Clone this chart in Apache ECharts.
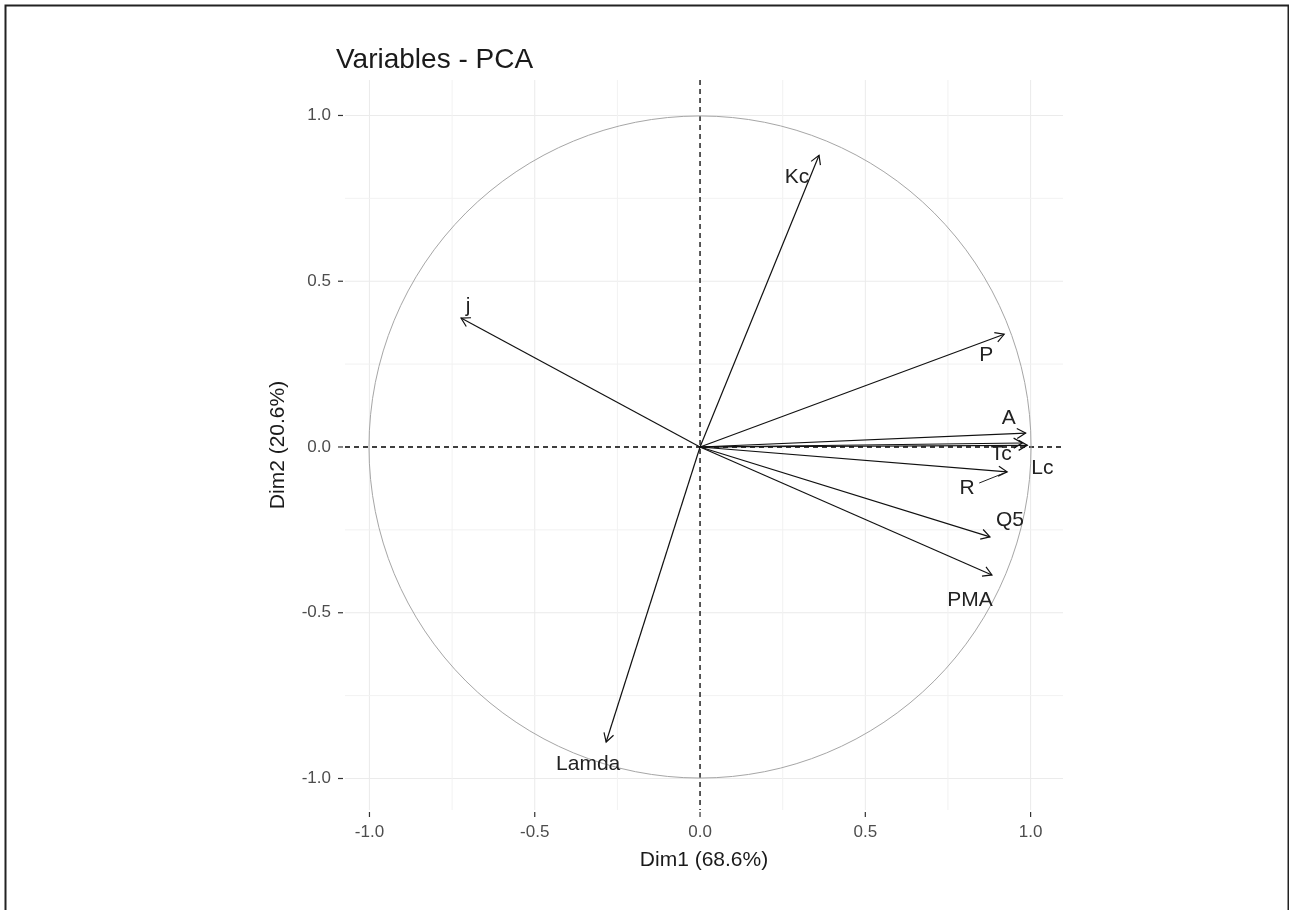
<!DOCTYPE html>
<html>
<head>
<meta charset="utf-8">
<title>Variables - PCA</title>
<script src="https://cdn.jsdelivr.net/npm/echarts@6/dist/echarts.min.js"></script>
<style>
  html, body { margin: 0; padding: 0; background: #ffffff; }
  #chart { width: 1289px; height: 910px; }
</style>
</head>
<body>
<div id="chart"></div>
<script>
// Variable loadings on the first two principal components
const varNames = ['Kc', 'j', 'P', 'A', 'Tc', 'Lc', 'R', 'Q5', 'PMA', 'Lamda'];
const dim1 = [0.36, -0.723, 0.92, 0.985, 0.975, 0.99, 0.929, 0.877, 0.883, -0.284];
const dim2 = [0.88, 0.389, 0.34, 0.042, 0.012, 0.005, -0.075, -0.271, -0.386, -0.89];

// Axis ticks and grid
const tickValues = [-1, -0.5, 0, 0.5, 1];
const minorValues = [-0.75, -0.25, 0.25, 0.75];
const xTitle = 'Dim1 (68.6%)';
const yTitle = 'Dim2 (20.6%)';

// Label placement relative to each arrow tip (pixels)
const labelDx = [-22, 7, -18, -17, -21, 15, -40, 20, -22, -18];
const labelDy = [22, -12, 21, -15, 11, 23, 16, -17, 25, 22];

const chart = echarts.init(document.getElementById('chart'), null, { renderer: 'canvas' });

const font = '"Liberation Sans", Arial, Helvetica, sans-serif';

const gridData = [];
tickValues.forEach(v => { if (v !== 0) { gridData.push([v, 0, 0]); gridData.push([v, 1, 0]); } });
minorValues.forEach(v => { gridData.push([v, 0, 1]); gridData.push([v, 1, 1]); });
gridData.push([0, 0, 2]);
gridData.push([0, 1, 2]);

const arrowData = varNames.map((n, i) => [dim1[i], dim2[i], i]);

function renderGrid(params, api) {
  const cs = params.coordSys;
  const v = api.value(0), dir = api.value(1), kind = api.value(2);
  let shape;
  if (dir === 0) {
    const px = api.coord([v, 0])[0];
    shape = { x1: px, y1: cs.y, x2: px, y2: cs.y + cs.height };
  } else {
    const py = api.coord([0, v])[1];
    shape = { x1: cs.x, y1: py, x2: cs.x + cs.width, y2: py };
  }
  const style = kind === 2
    ? { stroke: '#000', lineWidth: 1.3, lineDash: [5, 4] }
    : { stroke: kind === 0 ? '#ebebeb' : '#f2f2f2', lineWidth: 1 };
  return { type: 'line', shape: shape, style: style, z2: kind === 2 ? 5 : 1 };
}

function renderTicks(params, api) {
  // short tick marks outside the panel for the labelled values
  const cs = params.coordSys;
  const v = api.value(0), dir = api.value(1);
  let shape;
  if (dir === 0) {
    const px = api.coord([v, 0])[0];
    shape = { x1: px, y1: cs.y + cs.height + 2, x2: px, y2: cs.y + cs.height + 7 };
  } else {
    const py = api.coord([0, v])[1];
    shape = { x1: cs.x - 7, y1: py, x2: cs.x - 2, y2: py };
  }
  return { type: 'line', shape: shape, style: { stroke: '#333', lineWidth: 1.2 } };
}

function renderCircle(params, api) {
  const c = api.coord([0, 0]);
  const rx = Math.abs(api.coord([1, 0])[0] - c[0]);
  const ry = Math.abs(api.coord([0, 1])[1] - c[1]);
  return {
    type: 'circle',
    shape: { cx: c[0], cy: c[1], r: (rx + ry) / 2 },
    style: { fill: 'none', stroke: '#a6a6a6', lineWidth: 1 }
  };
}

function renderArrow(params, api) {
  const i = api.value(2);
  const o = api.coord([0, 0]);
  const t = api.coord([api.value(0), api.value(1)]);
  const ang = Math.atan2(t[1] - o[1], t[0] - o[0]);
  const hl = 10, ha = Math.PI / 6;
  const h1 = [t[0] - hl * Math.cos(ang - ha), t[1] - hl * Math.sin(ang - ha)];
  const h2 = [t[0] - hl * Math.cos(ang + ha), t[1] - hl * Math.sin(ang + ha)];
  const lx = t[0] + labelDx[i], ly = t[1] + labelDy[i];
  const children = [
    { type: 'line', shape: { x1: o[0], y1: o[1], x2: t[0], y2: t[1] },
      style: { stroke: '#111', lineWidth: 1.2 } },
    { type: 'polyline', shape: { points: [h1, t, h2] },
      style: { stroke: '#111', lineWidth: 1.2, fill: 'none' } },
    { type: 'text', x: lx, y: ly,
      style: { text: varNames[i], fill: '#222', font: '21px ' + font,
               align: 'center', verticalAlign: 'middle' } }
  ];
  const dx = t[0] - lx, dy = t[1] - ly, d = Math.hypot(dx, dy);
  if (d > 38) {
    const ux = dx / d, uy = dy / d;
    children.push({ type: 'line',
      shape: { x1: lx + ux * 13, y1: ly + uy * 13, x2: t[0] - ux * 4, y2: t[1] - uy * 4 },
      style: { stroke: '#222', lineWidth: 1 } });
  }
  return { type: 'group', children: children };
}

const option = {
  backgroundColor: '#ffffff',
  animation: false,
  title: {
    text: 'Variables - PCA',
    left: 331, top: 41,
    textStyle: { fontFamily: font, fontSize: 28, fontWeight: 'normal', color: '#1a1a1a' }
  },
  graphic: [{
    type: 'rect', left: 3, top: 3, silent: true,
    shape: { width: 1283, height: 930 },
    style: { fill: 'none', stroke: '#222', lineWidth: 2 }
  }],
  grid: { left: 345, top: 80, width: 718, height: 730, containLabel: false },
  xAxis: {
    type: 'value', min: -1.074, max: 1.098,
    name: xTitle, nameLocation: 'middle', nameGap: 40,
    nameTextStyle: { fontFamily: font, fontSize: 21, color: '#1a1a1a' },
    axisLine: { show: false },
    axisTick: { show: false },
    axisLabel: { customValues: tickValues, margin: 14,
                 formatter: v => v.toFixed(1),
                 fontFamily: font, fontSize: 17, color: '#4d4d4d' },
    splitLine: { show: false }
  },
  yAxis: {
    type: 'value', min: -1.095, max: 1.107,
    name: yTitle, nameLocation: 'middle', nameGap: 56, nameRotate: 90,
    nameTextStyle: { fontFamily: font, fontSize: 21, color: '#1a1a1a' },
    axisLine: { show: false },
    axisTick: { show: false },
    axisLabel: { customValues: tickValues, margin: 14,
                 formatter: v => v.toFixed(1),
                 fontFamily: font, fontSize: 17, color: '#4d4d4d' },
    splitLine: { show: false }
  },
  series: [
    { type: 'custom', name: 'grid', renderItem: renderGrid, data: gridData,
      encode: { x: 0, y: 1 }, silent: true, z: 1 },
    { type: 'custom', name: 'ticks', renderItem: renderTicks,
      data: tickValues.flatMap(v => [[v, 0], [v, 1]]),
      encode: { x: 0, y: 1 }, silent: true, clip: false, z: 1 },
    { type: 'custom', name: 'circle', renderItem: renderCircle, data: [[0, 0]],
      encode: { x: 0, y: 1 }, silent: true, z: 2 },
    { type: 'custom', name: 'variables', renderItem: renderArrow, data: arrowData,
      encode: { x: 0, y: 1 }, clip: false, z: 3 }
  ]
};

chart.setOption(option);
</script>
</body>
</html>
